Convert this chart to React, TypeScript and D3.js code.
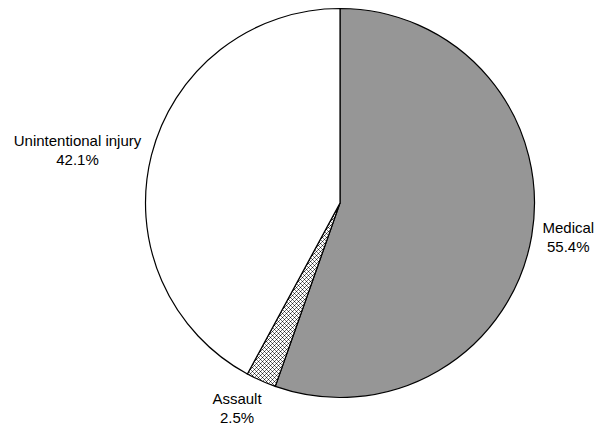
import * as d3 from 'd3';

const categories = ['Medical', 'Assault', 'Unintentional injury'];
const values = [55.4, 2.5, 42.1];
const labels = ['55.4%', '2.5%', '42.1%'];

const width = 596;
const height = 428;
const cx = 340;
const cy = 203;
const radius = 194.5;
const labelRadius = 205.5;
const fontSize = 15;
const lineHeight = 19;

const measure = (() => {
  const ctx = document.createElement('canvas').getContext('2d');
  return (s: string) => {
    if (!ctx) return s.length * 7;
    ctx.font = `${fontSize}px "Liberation Sans", Arial, sans-serif`;
    return ctx.measureText(s).width;
  };
})();

export default function App() {
  const pie = d3
    .pie<number>()
    .sort(null)
    .value((d) => d);
  const arcs = pie(values);
  const arc = d3.arc<d3.PieArcDatum<number>>().innerRadius(0).outerRadius(radius);
  const fills = ['#969696', 'url(#checks)', '#ffffff'];

  return (
    <svg
      width={width}
      height={height}
      style={{ position: 'absolute', left: 0, top: 0, background: '#fff' }}
      fontFamily='"Liberation Sans", Arial, sans-serif'
      fontSize={fontSize}
    >
      <defs>
        <pattern id="checks" width="4" height="4" patternUnits="userSpaceOnUse">
          <rect width="4" height="4" fill="#ffffff" />
          <rect x="0" y="0" width="1" height="1" fill="#222" />
          <rect x="2" y="2" width="1" height="1" fill="#222" />
          <rect x="1" y="1" width="1" height="1" fill="#777" />
          <rect x="3" y="3" width="1" height="1" fill="#777" />
          <rect x="3" y="1" width="1" height="1" fill="#777" />
          <rect x="1" y="3" width="1" height="1" fill="#777" />
        </pattern>
      </defs>
      <g transform={`translate(${cx},${cy})`}>
        {arcs.map((a, i) => (
          <path key={categories[i]} d={arc(a) ?? ''} fill={fills[i]} stroke="#000" strokeWidth={1.2} />
        ))}
        {arcs.map((a, i) => {
          // label box pushed outward from the slice's mid angle
          const mid = (a.startAngle + a.endAngle) / 2;
          const s = Math.sin(mid);
          const c = -Math.cos(mid);
          const hw = Math.max(measure(categories[i]), measure(labels[i])) / 2;
          const x = s * labelRadius + Math.sign(s) * hw * Math.pow(Math.abs(s), 0.25);
          const y = c * labelRadius + c * Math.abs(c) * 22;
          return (
            <text key={categories[i]} textAnchor="middle" fill="#000">
              <tspan x={x} y={y - lineHeight / 2 + 4.3}>{categories[i]}</tspan>
              <tspan x={x} y={y + lineHeight / 2 + 4.3}>{labels[i]}</tspan>
            </text>
          );
        })}
      </g>
    </svg>
  );
}
